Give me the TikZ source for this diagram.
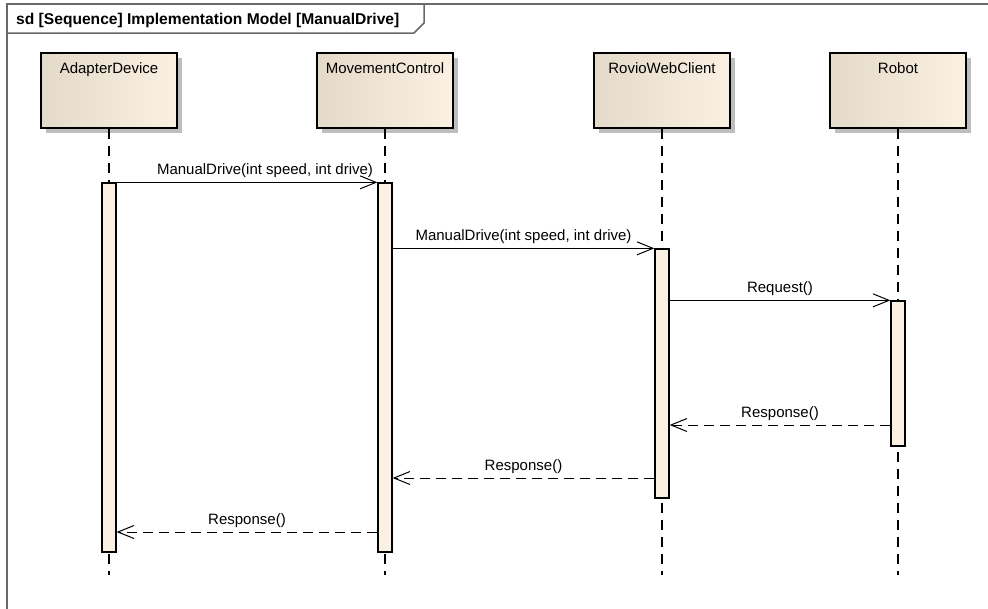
\documentclass[tikz,border=0pt]{standalone}
\usepackage{fontspec}
\setmainfont{Liberation Sans}
\usetikzlibrary{arrows.meta,shadows}

\definecolor{boxlight}{RGB}{251,241,226}
\definecolor{boxdark}{RGB}{228,218,202}
\definecolor{barfill}{RGB}{251,241,227}
\definecolor{shadowgray}{RGB}{190,190,190}
\definecolor{framegray}{RGB}{105,105,105}

\begin{document}
\begin{tikzpicture}[x=1pt, y=-1pt, font=\fontsize{15}{18}\selectfont,
    >={Straight Barb[length=16pt, width=13pt]}]
  \useasboundingbox (0,0) rectangle (988,608);

  % Frame
  \draw[framegray, line width=2pt] (7,620) -- (7,4) -- (1000,4);
  \draw[framegray, line width=1.5pt] (7,33) -- (414,33) -- (424,23) -- (424,4);
  \node[anchor=base west, inner sep=0pt, font=\fontsize{15.6}{18}\selectfont\bfseries] (title) at (16,24.5)
    {sd [Sequence] Implementation Model [ManualDrive]};

  % Lifelines
  \begin{scope}[every node/.style={draw, line width=1.3pt, minimum width=136pt, minimum height=75pt,
      left color=boxdark, middle color=boxlight, right color=boxlight,
      drop shadow={shadow xshift=5pt, shadow yshift=-5pt, fill=shadowgray, fill opacity=1, draw=none}}]

    \node (adapter) at (109,90.5) {};
    \node (movement) at (385,90.5) {};
    \node (rovio) at (662,90.5) {};
    \node (robot) at (898,90.5) {};

  \end{scope}

  \node[anchor=base] (adapterlbl) at (109,73.5) {AdapterDevice};
  \node[anchor=base] (movementlbl) at (385,73.5) {MovementControl};
  \node[anchor=base] (roviolbl) at (662,73.5) {RovioWebClient};
  \node[anchor=base] (robotlbl) at (898,73.5) {Robot};

  \coordinate (adapterend) at (109,575);
  \coordinate (movementend) at (385,575);
  \coordinate (rovioend) at (662,575);
  \coordinate (robotend) at (898,575);

  \begin{scope}[every edge/.append style={line width=1.2pt, dash pattern=on 10pt off 7pt}]
    \draw (adapter) edge (adapterend);
    \draw (movement) edge (movementend);
    \draw (rovio) edge (rovioend);
    \draw (robot) edge (robotend);
  \end{scope}

  % Activations
  \begin{scope}[every node/.style={draw, line width=1.3pt, fill=barfill, minimum width=14pt, inner sep=0pt}]

    \node[minimum height=369pt] (adapterbar) at (109,367.5) {};
    \node[minimum height=369pt] (movementbar) at (385,367.5) {};
    \node[minimum height=249pt] (roviobar) at (662,373.5) {};
    \node[minimum height=145pt] (robotbar) at (898,373.5) {};

  \end{scope}

  \coordinate (reply1) at (898,425);
  \coordinate (reply2) at (662,478);
  \coordinate (reply3) at (385,532);

  \begin{scope}[every node/.style={above, inner sep=3.8pt}, every edge/.append style={line width=1pt, ->}]

    % Calls
    \draw (adapterbar.north east) edge node[xshift=18pt] {ManualDrive(int speed, int drive)} (movementbar.north west);
    \draw (movementbar.east |- roviobar.north) edge node {ManualDrive(int speed, int drive)} (roviobar.north west);
    \draw (roviobar.east |- robotbar.north) edge node {Request()} (robotbar.north west);

    % Returns
    \draw[every edge/.append style={dash pattern=on 10pt off 6pt}]
      (robotbar.west |- reply1) edge node {Response()} (roviobar.east |- reply1);
    \draw[every edge/.append style={dash pattern=on 10pt off 6pt}]
      (roviobar.west |- reply2) edge node {Response()} (movementbar.east |- reply2);
    \draw[every edge/.append style={dash pattern=on 10pt off 6pt}]
      (movementbar.west |- reply3) edge node {Response()} (adapterbar.east |- reply3);

  \end{scope}
\end{tikzpicture}
\end{document}
